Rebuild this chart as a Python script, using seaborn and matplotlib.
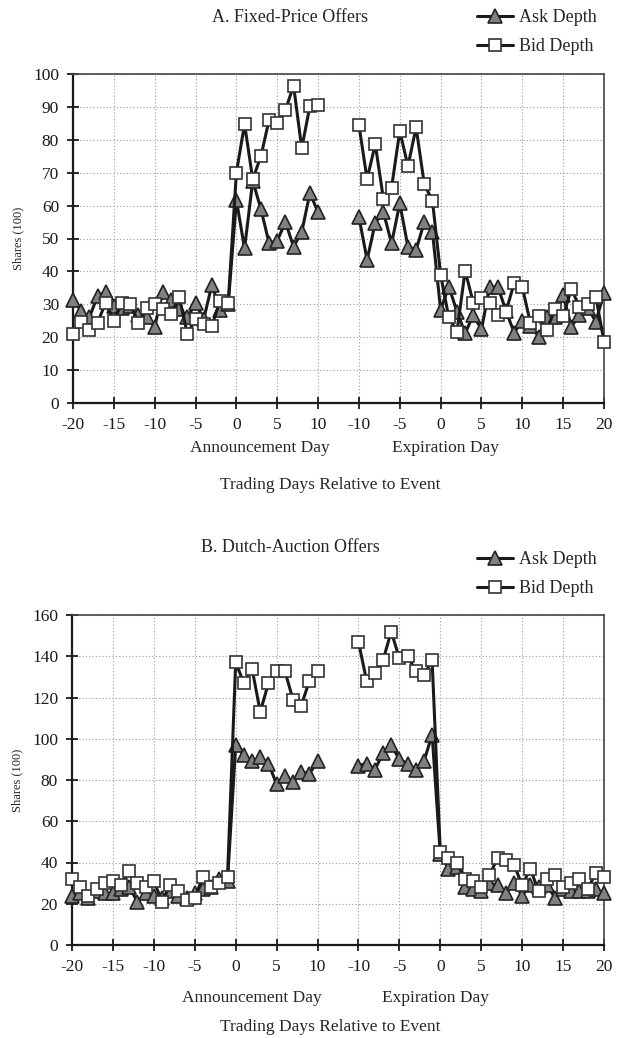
import numpy as np
import pandas as pd
import matplotlib
matplotlib.use("Agg")
import matplotlib.pyplot as plt
import seaborn as sns
from matplotlib.lines import Line2D

# ---------------- data ----------------
ann_days = list(range(-20, 11))   # announcement window
exp_days = list(range(-10, 21))   # expiration window

# Panel A: Fixed-price offers
a_ask_ann = [31.3, 28, 26, 32.5, 33.8, 29.5, 29, 29.5, 26.7, 26, 23.2, 33.8, 31.3, 28.5, 26, 30.3,
             25.5, 35.9, 28.3, 30, 61.7, 47, 67.5, 59, 48.6, 49.3, 55, 47.5, 52, 63.8, 58]
a_bid_ann = [21, 24.7, 22.2, 24.4, 30.5, 25, 30.3, 30, 24.4, 29, 30.1, 28.5, 27, 32.3, 21, 25.4,
             24, 23.4, 31.1, 30.5, 70, 84.8, 68, 75, 86, 85.2, 89, 96.5, 77.4, 90.3, 90.7]
a_ask_exp = [56.6, 43.5, 54.8, 58, 48.5, 60.7, 47.5, 46.5, 55, 52, 28.3, 35.4, 27.8, 21.2, 26.7,
             22.4, 35.2, 35.4, 28, 21.4, 25, 23.5, 20.2, 26, 26, 32.8, 23.2, 26.7, 29, 24.7, 33.5]
a_bid_exp = [84.5, 68, 78.7, 62, 65.5, 82.7, 72, 83.8, 66.5, 61.5, 39, 26, 21.7, 40.2, 30.5,
             32, 30.5, 26.7, 27.8, 36.4, 35.2, 24.2, 26.4, 22.2, 28.5, 26.4, 34.6, 29.3, 30, 32.3, 18.6]

# Panel B: Dutch-auction offers
b_ask_ann = [24, 25, 23, 26, 25, 25, 27, 28, 21, 25, 24, 23, 26, 24, 23, 25,
             27, 28, 32, 31, 97, 92, 89, 91, 88, 78, 82, 79, 84, 83, 89]
b_bid_ann = [32, 28, 24, 27, 30, 31, 29, 36, 30, 28, 31, 21, 29, 26, 22, 23,
             33, 28, 30, 33, 137, 127, 134, 113, 127, 133, 133, 119, 116, 128, 133]
b_ask_exp = [87, 88, 85, 93, 97, 90, 88, 85, 89, 102, 44, 37, 38, 28, 27,
             26, 30, 29, 25, 30, 24, 29, 28, 29, 23, 27, 26, 26, 26, 27, 25]
b_bid_exp = [147, 128, 132, 138, 152, 139, 140, 133, 131, 138, 45, 42, 40, 32, 31,
             28, 34, 42, 41, 39, 29, 37, 26, 32, 34, 28, 30, 32, 27, 35, 33]

tick_labels = ["-20", "-15", "-10", "-5", "0", "5", "10",
               "-10", "-5", "0", "5", "10", "15", "20"]
series_names = ["Ask Depth", "Bid Depth"]

GAP = 5  # empty slots between the two windows on the shared axis


def build_frame(ask_ann, bid_ann, ask_exp, bid_exp):
    rows = []
    off = len(ann_days) - 1 + GAP
    for name, ann, exp in [("Ask Depth", ask_ann, ask_exp), ("Bid Depth", bid_ann, bid_exp)]:
        for k, v in enumerate(ann):
            rows.append(dict(pos=k, val=v, series=name, seg="ann"))
        for k, v in enumerate(exp):
            rows.append(dict(pos=off + k, val=v, series=name, seg="exp"))
    return pd.DataFrame(rows)


dfA = build_frame(a_ask_ann, a_bid_ann, a_ask_exp, a_bid_exp)
dfB = build_frame(b_ask_ann, b_bid_ann, b_ask_exp, b_bid_exp)

# ---------------- style ----------------
sns.set_theme(style="white")
plt.rcParams["font.family"] = ["Liberation Serif", "DejaVu Serif"]
plt.rcParams["axes.linewidth"] = 1.3

W, H = 627, 1038
fig = plt.figure(figsize=(W / 100, H / 100), dpi=100)


def fx(px):
    return px / W


def fy(py):
    return 1 - py / H


styles = {
    "Ask Depth": dict(marker="^", markerfacecolor="#808080", markeredgecolor="#222222", markersize=9.5),
    "Bid Depth": dict(marker="s", markerfacecolor="white", markeredgecolor="#333333", markersize=9),
}


def draw_panel(ax, df, ymax, ystep):
    for name in series_names:
        sub = df[df["series"] == name]
        sns.lineplot(data=sub, x="pos", y="val", units="seg", estimator=None, ax=ax,
                     color="#1a1a1a", linewidth=2.2, markeredgewidth=1.2, clip_on=False,
                     legend=False, zorder=4 if name == "Bid Depth" else 3, **styles[name])
    ax.set_xlim(0, len(ann_days) - 1 + GAP + len(exp_days) - 1)
    ax.set_ylim(0, ymax)
    ax.set_xticks(np.arange(0, 66, 5))
    ax.set_xticklabels(tick_labels)
    ax.set_yticks(np.arange(0, ymax + 1, ystep))
    ax.set_xlabel("")
    ax.set_ylabel("Shares (100)", fontsize=9, labelpad=6)
    ax.grid(True, linestyle=(0, (1, 2)), color="#999999", linewidth=0.8)
    ax.set_axisbelow(True)
    ax.tick_params(axis="both", direction="inout", length=8, width=1.3, labelsize=12.5,
                   colors="#1a1a1a", pad=6, bottom=True, left=True)
    for s in ["left", "bottom"]:
        ax.spines[s].set_color("#1a1a1a")
        ax.spines[s].set_linewidth(1.6)
    for s in ["top", "right"]:
        ax.spines[s].set_color("#444444")
        ax.spines[s].set_linewidth(1.2)


axA = fig.add_axes([fx(73), fy(403), fx(604) - fx(73), fy(74) - fy(403)])
draw_panel(axA, dfA, 100, 10)
axB = fig.add_axes([fx(72), fy(945), fx(604) - fx(72), fy(615) - fy(945)])
draw_panel(axB, dfB, 160, 20)

# titles
fig.text(fx(290), fy(18), "A. Fixed-Price Offers", ha="center", va="center", fontsize=13)
fig.text(fx(290), fy(548), "B. Dutch-Auction Offers", ha="center", va="center", fontsize=13)

# window labels and common axis caption
for ax, ypx, ycap in [(axA, 448, 485), (axB, 998, 1027)]:
    fig.text(fx(260 if ax is axA else 252), fy(ypx), "Announcement Day", ha="center", va="center", fontsize=12.5)
    fig.text(fx(446 if ax is axA else 436), fy(ypx), "Expiration Day", ha="center", va="center", fontsize=12.5)
    fig.text(fx(330), fy(ycap), "Trading Days Relative to Event", ha="center", va="center", fontsize=12.5)

# legends
handles = [Line2D([], [], color="#1a1a1a", linewidth=2.2, markeredgewidth=1.2, **styles[n]) for n in series_names]
for ytop in (2, 544):
    fig.legend(handles, series_names, loc="upper left", bbox_to_anchor=(fx(470), fy(ytop)),
               frameon=False, fontsize=13, handlelength=2.0, handletextpad=0.3,
               labelspacing=0.65, borderaxespad=0)

fig.savefig("out.png", dpi=100)
